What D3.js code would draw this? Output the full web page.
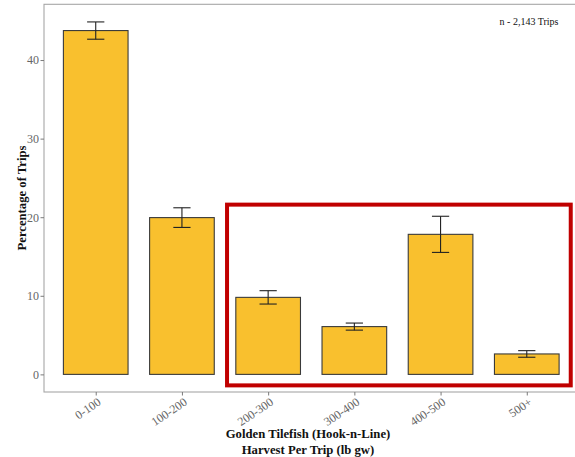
<!DOCTYPE html>
<html><head><meta charset="utf-8">
<script src="https://cdn.jsdelivr.net/npm/d3@7"></script>
<style>body{margin:0;background:#fff}svg{display:block}</style>
</head><body>
<script>
const categories = ["0-100","100-200","200-300","300-400","400-500","500+"];
const values = [43.75, 19.95, 9.8, 6.08, 17.82, 2.6];
const errors = [1.1, 1.25, 0.85, 0.45, 2.3, 0.42];
const yTicks = [0, 10, 20, 30, 40];
const annotationText = "n - 2,143 Trips";
const highlightCats = ["200-300", "500+"];
const highlightY = [-1.4, 21.6];

const W = 575, H = 457;
const panel = {left: 44, right: 578.5, top: 4.3, bottom: 392};
const serif = "'Liberation Serif','Times New Roman',serif";

const svg = d3.select("body").append("svg").attr("width", W).attr("height", H);

// ggplot-like discrete scale: 0.6 unit expansion each side, bar width 0.75
const step = (panel.right - panel.left) / (categories.length - 1 + 1.2);
const xScale = d3.scalePoint().domain(categories)
  .range([panel.left + step * 0.6, panel.right - step * 0.6]);
const center = c => xScale(c);
const barW = step * 0.75;
const capW = step * 0.2;

const maxTop = d3.max(values.map((v, i) => v + errors[i]));
const pad = maxTop * 0.05;
const y = d3.scaleLinear().domain([-pad, maxTop + pad]).range([panel.bottom, panel.top]);

// panel border
svg.append("rect").attr("x", panel.left).attr("y", panel.top)
  .attr("width", panel.right - panel.left).attr("height", panel.bottom - panel.top)
  .attr("fill", "none").attr("stroke", "#a6a6a6").attr("stroke-width", 1.1);

// bars
svg.selectAll("rect.bar").data(categories).enter().append("rect")
  .attr("class", "bar")
  .attr("x", c => center(c) - barW / 2)
  .attr("width", barW)
  .attr("y", (c, i) => y(values[i]))
  .attr("height", (c, i) => y(0) - y(values[i]))
  .attr("fill", "#F9C02E").attr("stroke", "#3a3a3a").attr("stroke-width", 1.1);

// error bars
const eb = svg.selectAll("g.eb").data(categories).enter().append("g")
  .attr("stroke", "#222").attr("stroke-width", 1.1);
eb.append("line").attr("x1", c => center(c)).attr("x2", c => center(c))
  .attr("y1", (c, i) => y(values[i] - errors[i])).attr("y2", (c, i) => y(values[i] + errors[i]));
eb.append("line").attr("x1", c => center(c) - capW / 2).attr("x2", c => center(c) + capW / 2)
  .attr("y1", (c, i) => y(values[i] + errors[i])).attr("y2", (c, i) => y(values[i] + errors[i]));
eb.append("line").attr("x1", c => center(c) - capW / 2).attr("x2", c => center(c) + capW / 2)
  .attr("y1", (c, i) => y(values[i] - errors[i])).attr("y2", (c, i) => y(values[i] - errors[i]));

// highlight rectangle
const hx1 = center(highlightCats[0]) - step * 0.5 + 2;
const hx2 = center(highlightCats[1]) + step * 0.51;
svg.append("rect").attr("x", hx1).attr("y", y(highlightY[1]))
  .attr("width", hx2 - hx1).attr("height", y(highlightY[0]) - y(highlightY[1]))
  .attr("fill", "none").attr("stroke", "#C00000").attr("stroke-width", 4);

// y axis
const yAxis = svg.append("g").attr("transform", `translate(${panel.left},0)`)
  .call(d3.axisLeft(y).tickValues(yTicks).tickSize(3.5).tickPadding(1.5));
yAxis.select(".domain").remove();
yAxis.selectAll("line").attr("stroke", "#7a7a7a");
yAxis.selectAll("text").attr("fill", "#666").style("font-family", serif).style("font-size", "12px");

// x axis
const xAxis = svg.append("g").attr("transform", `translate(0,${panel.bottom})`)
  .call(d3.axisBottom(xScale).tickSize(3.5).tickPadding(2));
xAxis.select(".domain").remove();
xAxis.selectAll("line").attr("stroke", "#7a7a7a");
xAxis.selectAll("text").attr("fill", "#666").style("font-family", serif).style("font-size", "12px")
  .attr("text-anchor", "end").attr("dy", null).attr("y", 0)
  .attr("transform", "translate(5.5,12) rotate(-34)");

// axis titles
svg.append("text").attr("transform", `translate(25.5,198) rotate(-90)`)
  .attr("text-anchor", "middle").style("font-family", serif).style("font-size", "12.7px")
  .style("font-weight", "bold").attr("fill", "#111").text("Percentage of Trips");
const xt = svg.append("text").attr("text-anchor", "middle").style("font-family", serif)
  .style("font-size", "12.7px").style("font-weight", "bold").attr("fill", "#111");
xt.append("tspan").attr("x", 308).attr("y", 438).text("Golden Tilefish (Hook-n-Line)");
xt.append("tspan").attr("x", 308).attr("y", 454).text("Harvest Per Trip (lb gw)");

// annotation
svg.append("text").attr("x", 529).attr("y", 24.5).attr("text-anchor", "middle")
  .style("font-family", serif).style("font-size", "10px").attr("fill", "#111").text(annotationText);
</script>
</body></html>
